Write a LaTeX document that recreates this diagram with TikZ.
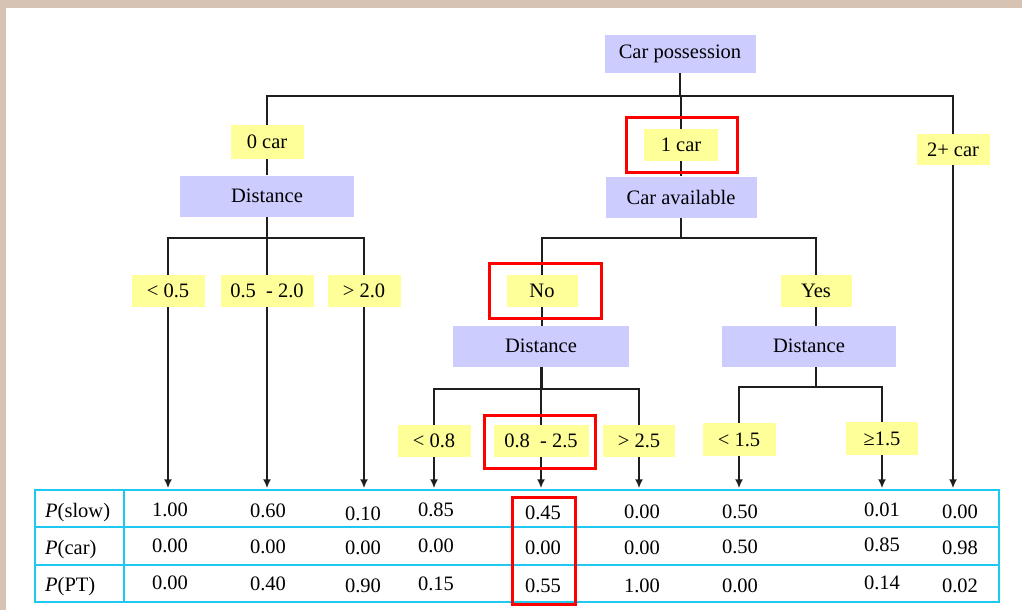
\documentclass[tikz,border=0pt]{standalone}
\usepackage{fontspec}
\setmainfont{Liberation Serif}
\usetikzlibrary{arrows.meta,backgrounds}
\definecolor{framebeige}{RGB}{215,195,180}
\definecolor{attrfill}{RGB}{204,204,255}
\definecolor{condfill}{RGB}{255,255,153}
\definecolor{tabline}{RGB}{30,200,240}
\definecolor{ink}{RGB}{30,30,30}
\begin{document}
\begin{tikzpicture}[x=1pt,y=-1pt,
  every node/.style={font=\fontsize{20.5}{24}\selectfont, inner sep=0pt},
  attrbox/.style={fill=attrfill, minimum width=#1, minimum height=41},
  condbox/.style={fill=condfill, minimum width=#1, minimum height=32},
  hl/.style={draw=red, line width=3pt, minimum width=#1},
  link/.style={draw=ink, line width=1.7pt},
  leaf/.style={link, -{Latex[length=9pt,width=8pt]}, shorten >=1pt},
  rowlab/.style={anchor=base west},
]
\useasboundingbox (0,0) rectangle (1022,610);
% page frame
\fill[framebeige] (0,0) rectangle (1022,8);
\fill[framebeige] (0,0) rectangle (6,610);

% attribute nodes
\node[attrbox=151, minimum height=38] (cp) at (680,54) {Car possession};
\node[attrbox=174] (d1) at (267,196) {Distance};
\node[attrbox=151] (ca) at (681,197) {Car available};
\node[attrbox=176] (d2) at (541,346) {Distance};
\node[attrbox=174] (d3) at (809,346) {Distance};

% condition labels
\node[condbox=73, minimum height=34] (zero) at (267,142) {0 car};
\node[condbox=74] (one) at (681,145) {1 car};
\node[condbox=73, minimum height=31] (two) at (953,149.5) {2+ car};
\node[condbox=73] (lt05) at (168,291) {< 0.5};
\node[condbox=93] (mid05) at (267,291) {0.5\ \ - 2.0};
\node[condbox=73] (gt20) at (364,291) {> 2.0};
\node[condbox=71] (no) at (542,291) {No};
\node[condbox=71] (yes) at (816,291) {Yes};
\node[condbox=73] (lt08) at (434,441) {< 0.8};
\node[condbox=95] (mid08) at (541,441) {0.8\ \ - 2.5};
\node[condbox=72] (gt25) at (639,441) {> 2.5};
\node[condbox=73, minimum height=33] (lt15) at (739,439.5) {< 1.5};
\node[condbox=72, minimum height=33] (ge15) at (882,438.5) {≥1.5};

% probability table
\node[draw=tabline, line width=1.5pt, minimum width=964, minimum height=112] (tab) at (517,546) {};
\draw[tabline, line width=1.5pt] (tab.west |- 0,527) -- (tab.east |- 0,527)
  (tab.west |- 0,565) -- (tab.east |- 0,565)
  (124,0 |- tab.north) -- (124,0 |- tab.south);

\node[rowlab] (rs) at (45,517) {\textit{P}(slow)};
\node[rowlab] (rc) at (45,554) {\textit{P}(car)};
\node[rowlab] (rp) at (45,591) {\textit{P}(PT)};

\node (v11) at (170,510) {1.00};
\node (v21) at (170,545.5) {0.00};
\node (v31) at (170,582.5) {0.00};
\node (v12) at (268,511) {0.60};
\node (v22) at (268,547) {0.00};
\node (v32) at (268,584) {0.40};
\node (v13) at (363,513.5) {0.10};
\node (v23) at (363,548) {0.00};
\node (v33) at (363,586) {0.90};
\node (v14) at (436,510) {0.85};
\node (v24) at (436,546) {0.00};
\node (v34) at (436,584) {0.15};
\node (v15) at (543,512.5) {0.45};
\node (v25) at (543,547.5) {0.00};
\node (v35) at (543,585.5) {0.55};
\node (v16) at (642,511.5) {0.00};
\node (v26) at (642,547.5) {0.00};
\node (v36) at (642,585.5) {1.00};
\node (v17) at (740,511.5) {0.50};
\node (v27) at (740,547) {0.50};
\node (v37) at (740,585.5) {0.00};
\node (v18) at (882,510) {0.01};
\node (v28) at (882,544.5) {0.85};
\node (v38) at (882,582.5) {0.14};
\node (v19) at (960,511.5) {0.00};
\node (v29) at (960,547.5) {0.98};
\node (v39) at (960,585.5) {0.02};

% highlighted path
\node[hl=111, minimum height=55] (h1) at (681.5,144.5) {};
\node[hl=112, minimum height=55] (h2) at (545,290.5) {};
\node[hl=111, minimum height=53] (h3) at (539.5,441.5) {};
\node[hl=63, minimum height=107] (h4) at (543.5,550.5) {};

% branch buses
\coordinate (bus0) at (681,96);
\coordinate (busA) at (267,238);
\coordinate (busB) at (681,238);
\coordinate (busC) at (541,389);
\coordinate (busD) at (816,387);

\begin{scope}[on background layer]
  \draw[link] (cp) -- (cp |- bus0);
  \draw[link] (d1) |- (bus0) -| (two);
  \draw[link] (ca) -- (ca |- bus0);
  \draw[leaf] (two) -- (two |- tab.north);

  \draw[link] (lt05) |- (busA) -| (gt20);
  \draw[link] (d1) -- (mid05);
  \draw[leaf] (lt05) -- (lt05 |- tab.north);
  \draw[leaf] (mid05) -- (mid05 |- tab.north);
  \draw[leaf] (gt20) -- (gt20 |- tab.north);

  \draw[link] (ca) -- (ca |- busB);
  \draw[link] (no) |- (busB) -| (yes);
  \draw[link] (no) -- (no |- busC);
  \draw[link] (yes) -- (yes |- busD);

  \draw[link] (lt08) |- (busC) -| (gt25);
  \draw[link] (d2) -- (mid08);
  \draw[leaf] (lt08) -- (lt08 |- tab.north);
  \draw[leaf] (mid08) -- (mid08 |- tab.north);
  \draw[leaf] (gt25) -- (gt25 |- tab.north);

  \draw[link] (lt15) |- (busD) -| (ge15);
  \draw[leaf] (lt15) -- (lt15 |- tab.north);
  \draw[leaf] (ge15) -- (ge15 |- tab.north);
\end{scope}
\end{tikzpicture}
\end{document}
